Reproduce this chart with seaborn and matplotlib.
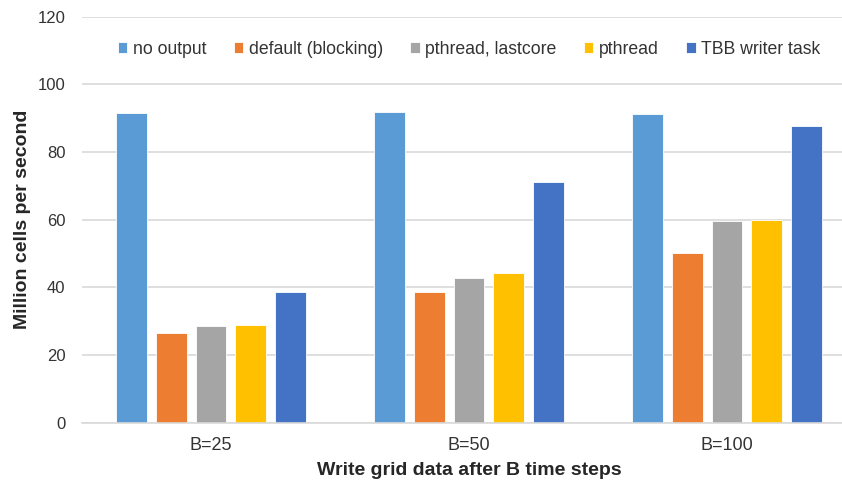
import matplotlib
matplotlib.use("Agg")
import matplotlib.pyplot as plt
import seaborn as sns
import pandas as pd

# Throughput of the simulation for different output strategies
groups = ["B=25", "B=50", "B=100"]
series = ["no output", "default (blocking)", "pthread, lastcore", "pthread", "TBB writer task"]
no_output = [91.4, 91.7, 91.3]
default_blocking = [26.4, 38.7, 50.3]
pthread_lastcore = [28.7, 42.7, 59.7]
pthread = [28.9, 44.3, 60.0]
tbb_writer = [38.7, 71.0, 87.7]
colors = ["#5B9BD5", "#ED7D31", "#A5A5A5", "#FFC000", "#4472C4"]
y_ticks = [0, 20, 40, 60, 80, 100, 120]

values = [no_output, default_blocking, pthread_lastcore, pthread, tbb_writer]
rows = []
for name, vals in zip(series, values):
    for g, v in zip(groups, vals):
        rows.append({"group": g, "series": name, "value": v})
df = pd.DataFrame(rows)

sns.set_theme(style="white")
plt.rcParams["font.family"] = ["Liberation Sans", "DejaVu Sans"]

fig = plt.figure(figsize=(8.42, 4.83), dpi=100)
ax = fig.add_axes([82 / 842, 0.1248, (856 - 82) / 842, 0.8406])

sns.barplot(data=df, x="group", y="value", hue="series", order=groups,
            hue_order=series, palette=colors, saturation=1, width=0.768, gap=0.218,
            edgecolor="white", linewidth=0.6, ax=ax, legend=True)

ax.set_ylim(0, 120)
ax.set_xlim(-0.5, 2.5)
ax.set_yticks(y_ticks)
ax.set_yticklabels([str(t) for t in y_ticks], fontsize=12, color="#333333")
ax.set_xticks(range(len(groups)))
ax.set_xticklabels(groups, fontsize=13, color="#333333")
ax.tick_params(axis="x", length=0, pad=10)
ax.tick_params(axis="y", length=0, pad=12)
ax.yaxis.grid(True, color="#D9D9D9", linewidth=1.2)
ax.set_axisbelow(True)
for s in ["top", "right", "left"]:
    ax.spines[s].set_visible(False)
ax.spines["bottom"].set_color("#D9D9D9")
ax.spines["bottom"].set_linewidth(1.2)

ax.set_xlabel("Write grid data after B time steps", fontsize=14, fontweight="bold",
              labelpad=6)
ax.set_ylabel("Million cells per second", fontsize=14, fontweight="bold",
              labelpad=5)

handles, labels = ax.get_legend_handles_labels()
ax.legend(handles, labels, loc="center", bbox_to_anchor=(469 / 842, 1 - 49 / 483),
          bbox_transform=fig.transFigure, ncol=5, frameon=False,
          prop={"size": 12.7},
          handlelength=0.55, handleheight=0.55, handletextpad=0.3,
          columnspacing=1.55, labelcolor="#333333")

fig.savefig("out.png", dpi=100)
